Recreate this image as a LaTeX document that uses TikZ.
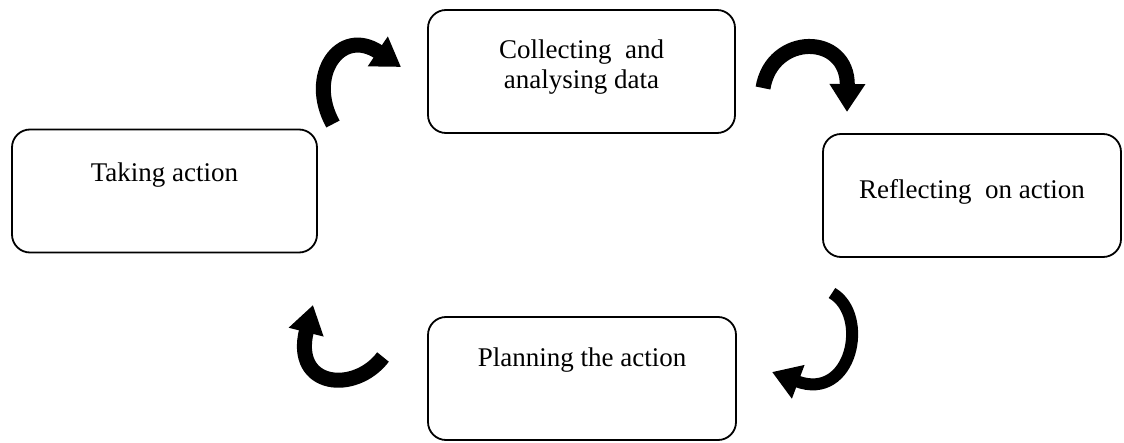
\documentclass[tikz,border=0pt]{standalone}
\usepackage{fontspec}
\setmainfont{Liberation Serif}
\usetikzlibrary{arrows.meta}

\begin{document}
\begin{tikzpicture}[
    x=0.5pt, y=-0.5pt,
    stage/.style={
        draw, line width=0.9pt, rounded corners=9pt,
        minimum height=61.5pt
    },
    caption/.style={
        align=center, font=\fontsize{13.5}{15}\selectfont
    },
    turn/.style={
        line width=7.5pt,
        -{Triangle[length=14pt, width=17pt]}
    }
]

    \useasboundingbox (0,0) rectangle (1124,443);

    \node[stage, minimum width=153.5pt] (collect) at (581.5,71.5) {};
    \node[stage, minimum width=152.5pt] (taking) at (164.5,191) {};
    \node[stage, minimum width=149pt] (reflect) at (972,195.5) {};
    \node[stage, minimum width=154pt] (plan) at (582,378.5) {};

    \node[caption] (collect text) at ([yshift=2pt]collect.center)
        {Collecting\ \ and\\analysing data};
    \node[caption] (taking text) at ([yshift=8pt]taking.center) {Taking action};
    \node[caption] (reflect text) at ([yshift=2pt]reflect.center)
        {Reflecting\ \ on action};
    \node[caption] (plan text) at ([yshift=9pt]plan.center) {Planning the action};

    \coordinate (up tail) at (333,124);
    \coordinate (up tip) at (401,67);
    \coordinate (right tail) at (763,88);
    \coordinate (right tip) at (847,112);
    \coordinate (down tail) at (832,293);
    \coordinate (down tip) at (772,372);
    \coordinate (left tail) at (383,357);
    \coordinate (left tip) at (313,305);

    \draw[turn] (up tail) .. controls (306,76) and (340,26) .. (up tip);
    \draw[turn] (right tail) .. controls (772,33) and (848,33) .. (right tip);
    \draw[turn, line width=6pt] (down tail) .. controls (870,315) and (852,402) .. (down tip);
    \draw[turn] (left tail) .. controls (355,394) and (292,388) .. (left tip);

\end{tikzpicture}
\end{document}
